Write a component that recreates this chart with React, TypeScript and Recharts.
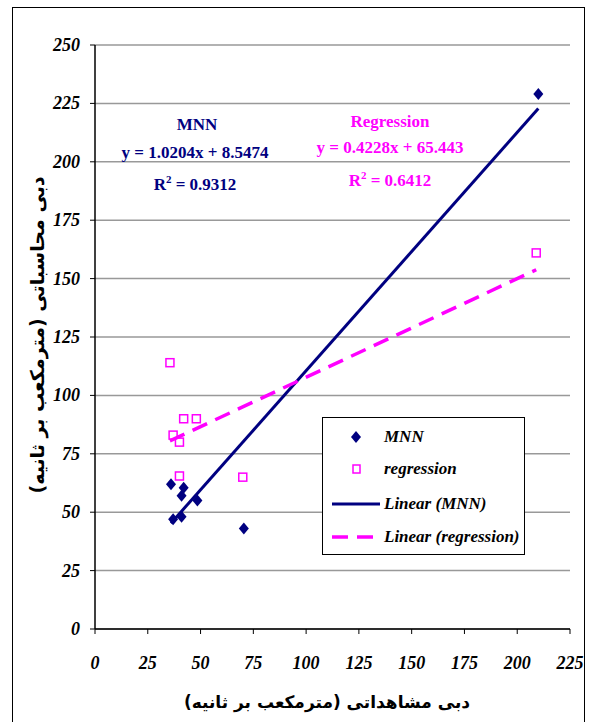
import { ScatterChart, Scatter, XAxis, YAxis, CartesianGrid } from "recharts";

const mnnObserved = [36, 37, 41, 41, 42, 48.5, 70.5, 210];
const mnnComputed = [62, 47, 48, 57, 60.5, 55, 43, 229];
const regObserved = [35.5, 37, 40, 40, 42, 48, 70, 209];
const regComputed = [114, 83, 80, 65.5, 90, 90, 65, 161];

// trendline end points (from the printed equations)
const mnnTrendX = [36, 210];
const mnnTrendY = [45.3, 222.8];
const regTrendX = [35.5, 209];
const regTrendY = [80.5, 153.8];

const xTicks = [0, 25, 50, 75, 100, 125, 150, 175, 200, 225];
const yTicks = [0, 25, 50, 75, 100, 125, 150, 175, 200, 225, 250];

const NAVY = "#000080";
const PINK = "#ff00ff";
const SERIF = "'Liberation Serif', 'Times New Roman', serif";
const FA = "'DejaVu Sans', sans-serif";

const zip = (xs: number[], ys: number[]) => xs.map((x, i) => ({ x, y: ys[i] }));

const mnnData = zip(mnnObserved, mnnComputed);
const regData = zip(regObserved, regComputed);
const mnnTrend = zip(mnnTrendX, mnnTrendY);
const regTrend = zip(regTrendX, regTrendY);

const Diamond = (p: any) => (
  <polygon
    points={`${p.cx},${p.cy - 6} ${p.cx + 5},${p.cy} ${p.cx},${p.cy + 6} ${p.cx - 5},${p.cy}`}
    fill={NAVY}
  />
);

const Square = (p: any) => (
  <rect x={p.cx - 4} y={p.cy - 4} width={8} height={8} fill="#fff" stroke={PINK} strokeWidth={1.5} />
);

const Empty = () => <g />;

const tickFont = {
  fontFamily: SERIF,
  fontWeight: 700,
  fontStyle: "italic",
  fontSize: 18,
  fill: "#000",
};

const XTick = (p: any) => (
  <text x={p.x} y={p.y + 13} textAnchor="middle" style={tickFont}>
    {p.payload.value}
  </text>
);

const YTick = (p: any) => (
  <text x={p.x} y={p.y + 6} textAnchor="end" style={tickFont}>
    {p.payload.value}
  </text>
);

function Note({ x, y, color, children }: { x: number; y: number; color: string; children: any }) {
  return (
    <div
      style={{
        position: "absolute",
        left: x - 120,
        top: y - 11,
        width: 240,
        textAlign: "center",
        fontFamily: SERIF,
        fontWeight: 700,
        fontSize: 17,
        lineHeight: "22px",
        color,
        whiteSpace: "nowrap",
      }}
    >
      {children}
    </div>
  );
}

function LegendRow({ y, marker, label }: { y: number; marker: any; label: string }) {
  return (
    <div style={{ position: "absolute", left: 0, top: y - 11, height: 22, width: 200 }}>
      <svg width={60} height={22} style={{ position: "absolute", left: 0, top: 0 }}>
        {marker}
      </svg>
      <span
        style={{
          position: "absolute",
          left: 61,
          top: 0,
          lineHeight: "22px",
          fontFamily: SERIF,
          fontWeight: 700,
          fontStyle: "italic",
          fontSize: 17,
          whiteSpace: "nowrap",
        }}
      >
        {label}
      </span>
    </div>
  );
}

export default function App() {
  return (
    <div style={{ position: "relative", width: 590, height: 722, overflow: "hidden", background: "#fff" }}>
      <style>{`body{margin:0}`}</style>
      <div
        style={{
          position: "absolute",
          left: 12,
          top: 7,
          width: 571,
          height: 740,
          border: "1.5px solid #000",
        }}
      />
      <ScatterChart width={590} height={722} margin={{ top: 45, right: 20, left: 35, bottom: 33 }}>
        <CartesianGrid vertical={false} stroke="#999" strokeWidth={1.5} />
        <XAxis
          type="number"
          dataKey="x"
          domain={[0, 225]}
          ticks={xTicks}
          height={60}
          tickSize={5}
          tickMargin={22}
          stroke="#000"
          axisLine={{ stroke: "#000", strokeWidth: 1.5 }}
          tick={XTick}
          interval={0}
        />
        <YAxis
          type="number"
          dataKey="y"
          domain={[0, 250]}
          ticks={yTicks}
          width={60}
          tickSize={5}
          tickMargin={10}
          stroke="#000"
          axisLine={{ stroke: "#000", strokeWidth: 1.5 }}
          tick={YTick}
          interval={0}
        />
        <Scatter data={mnnData} shape={Diamond} isAnimationActive={false} />
        <Scatter data={regData} shape={Square} isAnimationActive={false} />
        <Scatter
          data={mnnTrend}
          shape={Empty}
          line={{ stroke: NAVY, strokeWidth: 3 }}
          isAnimationActive={false}
        />
        <Scatter
          data={regTrend}
          shape={Empty}
          line={{ stroke: PINK, strokeWidth: 3.5, strokeDasharray: "16 9" }}
          isAnimationActive={false}
        />
      </ScatterChart>

      <Note x={197} y={125} color={NAVY}>MNN</Note>
      <Note x={195} y={153} color={NAVY}>y = 1.0204x + 8.5474</Note>
      <Note x={195} y={185} color={NAVY}>
        R<sup style={{ fontSize: 11, lineHeight: 0 }}>2</sup> = 0.9312
      </Note>
      <Note x={390} y={122} color={PINK}>Regression</Note>
      <Note x={390} y={148} color={PINK}>y = 0.4228x + 65.443</Note>
      <Note x={390} y={181} color={PINK}>
        R<sup style={{ fontSize: 11, lineHeight: 0 }}>2</sup> = 0.6412
      </Note>

      <div
        style={{
          position: "absolute",
          left: 322,
          top: 417,
          width: 201,
          height: 136,
          border: "1.5px solid #000",
          background: "#fff",
        }}
      >
        <LegendRow
          y={19}
          label="MNN"
          marker={<polygon points="33,5 38,11 33,17 28,11" fill={NAVY} />}
        />
        <LegendRow
          y={51}
          label="regression"
          marker={<rect x={30} y={7} width={7} height={8} fill="#fff" stroke={PINK} strokeWidth={1.5} />}
        />
        <LegendRow
          y={86}
          label="Linear (MNN)"
          marker={<line x1={9} y1={11} x2={57} y2={11} stroke={NAVY} strokeWidth={3} />}
        />
        <LegendRow
          y={119}
          label="Linear (regression)"
          marker={<line x1={9} y1={11} x2={57} y2={11} stroke={PINK} strokeWidth={3.5} strokeDasharray="16 9" />}
        />
      </div>

      <div
        style={{
          position: "absolute",
          left: 37 - 200,
          top: 335 - 13,
          width: 400,
          height: 26,
          textAlign: "center",
          transform: "rotate(-90deg)",
          fontFamily: FA,
          fontWeight: 700,
          fontSize: 19,
          lineHeight: "26px",
          direction: "rtl",
          whiteSpace: "nowrap",
        }}
      >
        دبی محاسباتی (مترمکعب بر ثانیه)
      </div>
      <div
        style={{
          position: "absolute",
          left: 327 - 200,
          top: 702 - 12,
          width: 400,
          height: 24,
          textAlign: "center",
          fontFamily: FA,
          fontWeight: 700,
          fontSize: 17,
          lineHeight: "24px",
          direction: "rtl",
          whiteSpace: "nowrap",
        }}
      >
        دبی مشاهداتی (مترمکعب بر ثانیه)
      </div>
    </div>
  );
}
